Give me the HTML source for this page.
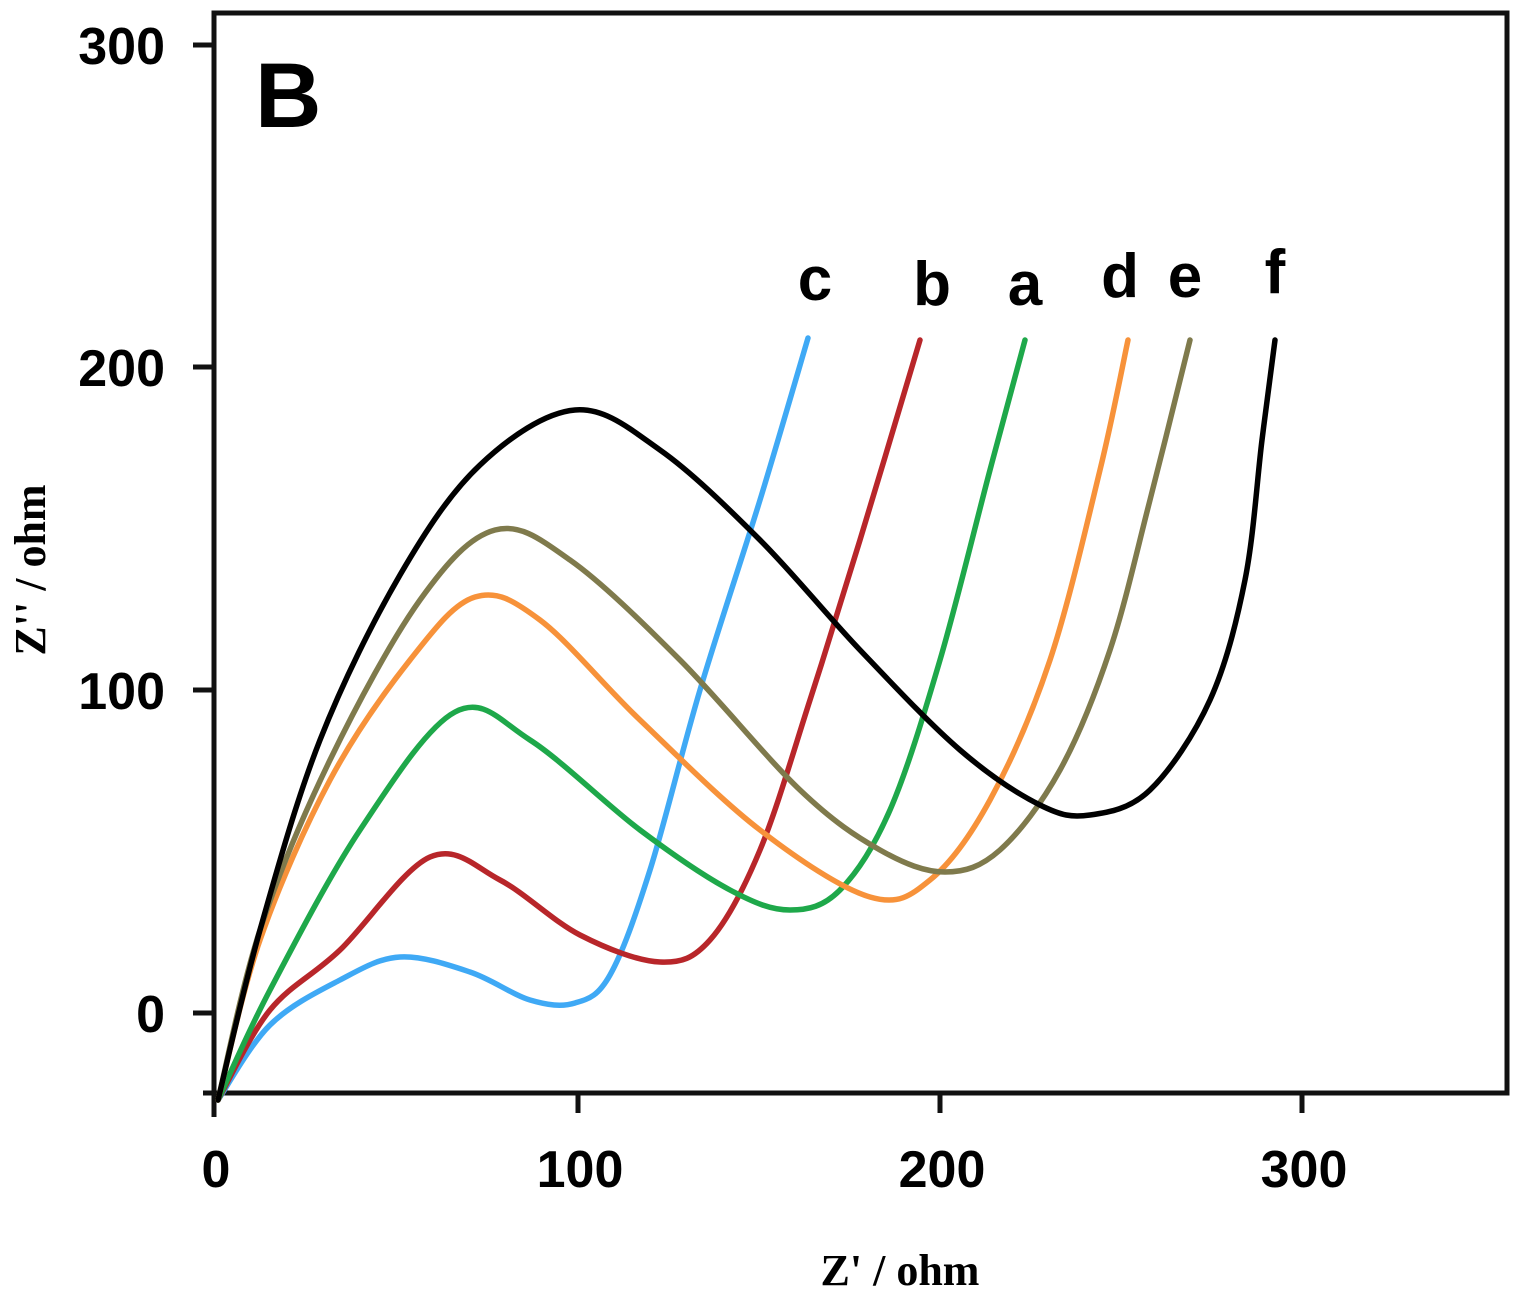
<!DOCTYPE html>
<html><head><meta charset="utf-8"><style>
html,body{margin:0;padding:0;background:#fff;width:1533px;height:1299px;overflow:hidden}
svg{display:block}
.t{font-family:"Liberation Sans",sans-serif;font-weight:bold;font-size:52px;fill:#000}
.l{font-family:"Liberation Sans",sans-serif;font-weight:bold;font-size:62px;fill:#000}
.s{font-family:"Liberation Serif",serif;font-weight:bold;font-size:44px;fill:#000}
</style></head><body>
<svg id="g" width="1533" height="1299" viewBox="0 0 1533 1299" xmlns="http://www.w3.org/2000/svg">
<g stroke="#111" stroke-width="5" fill="none">
<rect x="214" y="13" width="1293" height="1080"/>
<line x1="193" y1="45" x2="214" y2="45"/><line x1="193" y1="367" x2="214" y2="367"/>
<line x1="193" y1="690" x2="214" y2="690"/><line x1="193" y1="1013" x2="214" y2="1013"/>
<line x1="203" y1="1093" x2="214" y2="1093"/>
<line x1="214" y1="1093" x2="214" y2="1117"/><line x1="578" y1="1093" x2="578" y2="1113"/>
<line x1="940" y1="1093" x2="940" y2="1113"/><line x1="1302" y1="1093" x2="1302" y2="1113"/>
</g>
<g id="curves" fill="none" stroke-width="5.5" stroke-linejoin="round" stroke-linecap="round"></g>
<text class="t" x="165" y="64" text-anchor="end">300</text>
<text class="t" x="165" y="386" text-anchor="end">200</text>
<text class="t" x="165" y="709" text-anchor="end">100</text>
<text class="t" x="165" y="1032" text-anchor="end">0</text>
<text class="t" x="216" y="1187" text-anchor="middle">0</text>
<text class="t" x="580" y="1187" text-anchor="middle">100</text>
<text class="t" x="942" y="1187" text-anchor="middle">200</text>
<text class="t" x="1304" y="1187" text-anchor="middle">300</text>
<text x="255" y="127" style="font-family:'Liberation Sans',sans-serif;font-weight:bold;font-size:92px">B</text>
<text class="l" x="815" y="300" text-anchor="middle">c</text>
<text class="l" x="932" y="305" text-anchor="middle">b</text>
<text class="l" x="1025" y="305" text-anchor="middle">a</text>
<text class="l" x="1120" y="297" text-anchor="middle">d</text>
<text class="l" x="1185" y="297" text-anchor="middle">e</text>
<text class="l" x="1275" y="293" text-anchor="middle">f</text>
<text class="s" x="900" y="1285" text-anchor="middle">Z' / ohm</text>
<text class="s" transform="translate(45,570) rotate(-90)" text-anchor="middle">Z'' / ohm</text>
</svg>
<script>
var C=[
["#3fa9f5",[[218,1100],[270,1025],[340,980],[400,957],[470,972],[530,1000],[575,1003],[610,975],[650,870],[700,690],[760,500],[808,338]]],
["#b8262a",[[218,1100],[270,1010],[340,950],[430,857],[500,880],[580,935],[660,962],[710,940],[760,850],[810,700],[860,540],[920,340]]],
["#1ea84a",[[218,1100],[270,990],[360,830],[455,712],[530,740],[640,830],[730,890],[790,910],[840,890],[890,810],[940,660],[990,470],[1025,340]]],
["#f7923a",[[218,1100],[260,940],[330,780],[410,660],[475,597],[540,620],[640,720],[760,830],[870,897],[930,880],[990,800],[1050,660],[1100,470],[1128,340]]],
["#7f7a4c",[[218,1100],[260,930],[330,760],[420,600],[495,530],[570,560],[680,660],[800,790],[880,850],[945,872],[1000,850],[1060,770],[1110,650],[1150,500],[1190,340]]],
["#000",[[218,1100],[260,930],[320,740],[400,575],[480,465],[575,410],[660,450],[760,540],[860,650],[960,750],[1040,805],[1090,815],[1150,790],[1210,700],[1245,580],[1262,440],[1275,340]]]
];
var g=document.getElementById("curves"),ns="http://www.w3.org/2000/svg";
C.forEach(function(c){var p=c[1],d="M"+p[0][0]+","+p[0][1];
for(var i=0;i<p.length-1;i++){var a=p[Math.max(i-1,0)],b=p[i],e=p[i+1],f=p[Math.min(i+2,p.length-1)];
d+=" C"+(b[0]+(e[0]-a[0])/6)+","+(b[1]+(e[1]-a[1])/6)+" "+(e[0]-(f[0]-b[0])/6)+","+(e[1]-(f[1]-b[1])/6)+" "+e[0]+","+e[1];}
var el=document.createElementNS(ns,"path");el.setAttribute("d",d);el.setAttribute("stroke",c[0]);g.appendChild(el);});
</script>
</body></html>
